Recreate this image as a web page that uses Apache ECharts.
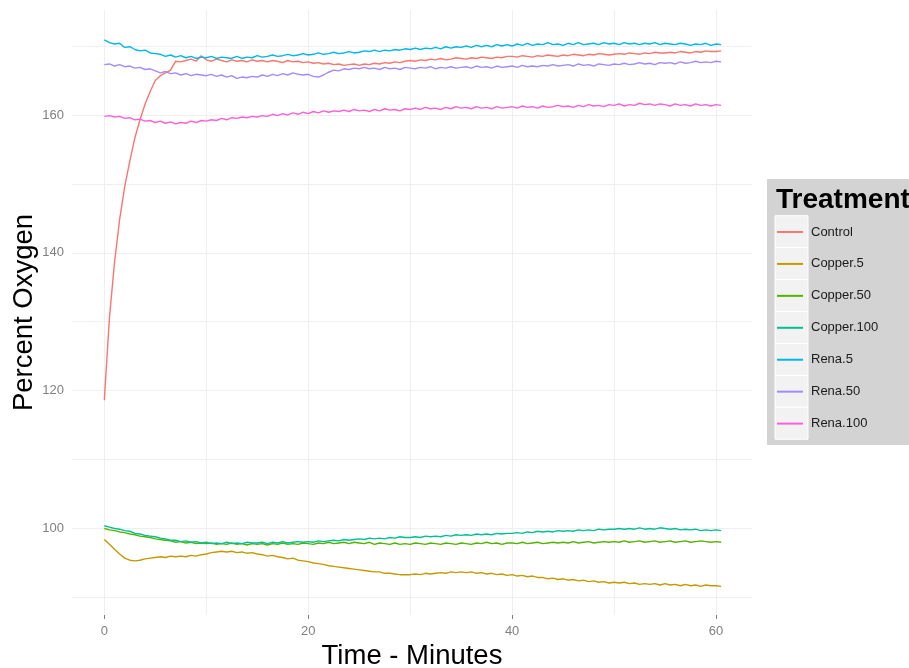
<!DOCTYPE html>
<html>
<head>
<meta charset="utf-8">
<script src="https://cdn.jsdelivr.net/npm/echarts@6/dist/echarts.min.js"></script>
<style>
  html, body { margin: 0; padding: 0; background: #fff; }
  #main { width: 909px; height: 668px; }
</style>
</head>
<body>
<div id="main"></div>
<script>
// sample times, every half minute from 0 to 60.5
var minutes = [];
for (var i = 0; i <= 121; i++) minutes.push(i / 2);

var names = ['Control', 'Copper.5', 'Copper.50', 'Copper.100', 'Rena.5', 'Rena.50', 'Rena.100'];
var colors = ['#F8766D', '#C49A00', '#53B400', '#00C094', '#00B6EB', '#A58AFF', '#FB61D7'];

var xTicks = [0, 20, 40, 60];
var yTicks = [100, 120, 140, 160];
var xGrid = [0, 10, 20, 30, 40, 50, 60];
var yGrid = [90, 100, 110, 120, 130, 140, 150, 160, 170];

// one row = 5 minutes
var control = [
  118.6,130.5,138.6,144.8,149.6,153.3,156.7,159.3,161.6,163.4,
  165.0,165.7,166.1,166.5,167.8,167.7,167.9,168.1,167.8,168.6,
  168.0,167.8,168.1,167.9,167.7,168.0,167.8,167.9,167.7,168.0,
  167.8,167.9,167.7,167.9,167.8,167.6,167.9,167.7,167.8,167.6,
  167.7,167.5,167.6,167.4,167.5,167.3,167.4,167.2,167.3,167.4,
  167.2,167.4,167.3,167.5,167.4,167.6,167.5,167.7,167.6,167.8,
  167.9,167.8,168.0,167.9,168.1,168.0,168.2,168.0,168.1,168.3,
  168.2,168.1,168.3,168.2,168.4,168.3,168.2,168.4,168.3,168.5,
  168.5,168.4,168.6,168.5,168.4,168.6,168.5,168.7,168.6,168.5,
  168.7,168.6,168.8,168.7,168.6,168.8,168.7,168.9,168.8,168.7,
  168.8,168.9,168.8,169.0,168.9,168.8,169.0,168.9,169.1,169.0,
  169.0,169.1,169.0,169.2,169.1,169.0,169.2,169.1,169.3,169.2,
  169.2,169.3
];
var copper5 = [
  98.4,97.7,97.0,96.3,95.7,95.4,95.3,95.4,95.6,95.7,
  95.8,95.9,95.8,96.0,95.9,96.0,95.9,96.1,96.0,96.2,
  96.3,96.5,96.6,96.7,96.6,96.7,96.5,96.6,96.4,96.5,
  96.3,96.2,96.0,96.1,95.9,95.8,95.6,95.7,95.4,95.3,
  95.2,95.0,94.9,94.8,94.6,94.5,94.4,94.3,94.2,94.1,
  94.0,93.9,93.8,93.7,93.7,93.5,93.5,93.4,93.3,93.3,
  93.3,93.4,93.3,93.5,93.4,93.5,93.6,93.5,93.7,93.6,
  93.7,93.6,93.7,93.5,93.6,93.4,93.5,93.3,93.4,93.2,
  93.3,93.1,93.2,93.0,93.1,92.9,92.9,92.7,92.8,92.6,
  92.7,92.5,92.6,92.4,92.5,92.3,92.4,92.2,92.3,92.1,
  92.2,92.1,92.2,92.0,92.1,91.9,92.0,91.9,92.0,91.8,
  92.0,91.8,91.9,91.7,91.9,91.7,91.8,91.6,91.8,91.7,
  91.7,91.6
];
var copper50 = [
  100.0,99.8,99.7,99.5,99.4,99.2,99.1,98.9,98.8,98.7,
  98.5,98.4,98.3,98.2,98.0,98.1,97.9,98.0,97.8,97.9,
  97.8,97.9,97.7,97.8,97.7,97.9,97.7,97.8,97.6,97.8,
  97.7,97.8,97.6,97.8,97.7,97.9,97.7,97.8,97.7,97.9,
  97.8,97.7,97.9,97.8,98.0,97.8,97.9,98.0,97.8,98.0,
  97.9,97.8,98.0,97.7,97.9,97.8,97.7,97.9,97.7,97.8,
  97.7,97.9,97.8,97.7,97.9,97.8,97.7,97.9,97.8,97.7,
  97.9,97.8,97.7,97.9,97.8,98.0,97.8,97.9,97.7,97.9,
  97.9,97.8,98.0,97.8,97.9,98.0,97.8,97.9,98.0,97.9,
  98.0,97.9,98.1,97.9,98.0,98.1,97.9,98.0,98.1,98.0,
  98.1,98.0,98.2,98.0,98.1,98.2,98.0,98.1,98.2,98.0,
  98.1,98.2,98.0,98.1,98.2,98.0,98.1,98.2,98.1,98.0,
  98.1,98.0
];
var copper100 = [
  100.4,100.2,100.0,99.9,99.7,99.6,99.3,99.2,99.0,98.9,
  98.8,98.6,98.5,98.3,98.3,98.1,98.2,98.0,98.1,97.9,
  98.0,97.8,97.9,97.8,98.0,97.8,97.9,97.8,98.0,97.9,
  97.9,98.0,97.8,98.0,97.9,98.1,97.9,98.0,98.1,98.0,
  98.1,98.0,98.2,98.1,98.2,98.3,98.2,98.4,98.3,98.4,
  98.5,98.4,98.6,98.5,98.6,98.5,98.7,98.6,98.8,98.7,
  98.7,98.8,98.7,98.9,98.8,98.9,98.8,99.0,98.9,99.1,
  99.0,99.1,99.0,99.2,99.1,99.2,99.1,99.3,99.2,99.3,
  99.3,99.4,99.3,99.5,99.4,99.6,99.5,99.6,99.5,99.7,
  99.6,99.7,99.6,99.8,99.7,99.8,99.7,99.9,99.8,99.9,
  99.9,100.0,99.9,100.0,99.9,100.1,99.9,100.0,99.9,100.1,
  100.0,99.9,100.0,99.8,99.9,99.8,99.9,99.7,99.8,99.7,
  99.8,99.7
];
var rena5 = [
  170.9,170.5,170.3,170.4,169.8,169.9,169.5,169.3,169.4,169.0,
  168.9,168.8,168.5,168.7,168.4,168.6,168.3,168.5,168.2,168.4,
  168.3,168.5,168.2,168.4,168.3,168.2,168.5,168.2,168.4,168.3,
  168.6,168.4,168.5,168.7,168.5,168.6,168.8,168.6,168.7,168.9,
  168.7,168.8,169.0,168.8,168.9,169.1,168.9,169.0,169.2,169.0,
  169.1,169.3,169.2,169.4,169.2,169.4,169.3,169.5,169.4,169.6,
  169.5,169.7,169.5,169.7,169.6,169.8,169.6,169.9,169.7,169.9,
  169.8,170.0,169.8,170.1,169.9,170.1,169.9,170.2,170.0,170.2,
  170.0,170.3,170.1,170.4,170.1,170.3,170.2,170.5,170.2,170.3,
  170.1,170.4,170.2,170.5,170.2,170.3,170.4,170.2,170.5,170.3,
  170.4,170.2,170.5,170.3,170.4,170.2,170.4,170.3,170.5,170.2,
  170.4,170.3,170.2,170.4,170.3,170.1,170.3,170.2,170.4,170.1,
  170.3,170.2
];
var rena50 = [
  167.3,167.4,167.1,167.3,167.0,167.1,166.8,166.9,166.6,166.7,
  166.4,166.1,166.3,166.0,166.1,165.8,166.0,165.7,165.9,165.8,
  165.7,165.9,165.6,165.8,165.5,165.7,165.3,165.5,165.4,165.6,
  165.5,165.8,165.6,165.9,165.7,166.0,165.8,166.1,165.9,165.8,
  165.9,165.6,165.5,165.8,166.2,166.5,166.4,166.7,166.6,166.8,
  166.7,166.9,166.7,166.8,166.6,166.9,166.7,166.8,166.6,166.9,
  166.8,166.7,166.9,166.8,167.0,166.7,166.9,166.8,167.0,166.8,
  166.9,167.0,166.8,167.1,166.9,167.0,166.8,167.1,166.9,167.0,
  167.1,166.9,167.2,167.0,167.1,167.0,167.2,167.1,167.3,167.1,
  167.2,167.3,167.1,167.4,167.2,167.3,167.1,167.4,167.3,167.2,
  167.4,167.3,167.5,167.3,167.4,167.6,167.4,167.5,167.3,167.6,
  167.5,167.6,167.4,167.7,167.5,167.6,167.8,167.6,167.7,167.6,
  167.8,167.7
];
var rena100 = [
  159.8,159.9,159.7,159.8,159.5,159.6,159.3,159.4,159.1,159.2,
  158.9,159.1,158.8,159.0,158.7,158.9,158.8,159.1,158.9,159.2,
  159.1,159.3,159.2,159.5,159.3,159.6,159.5,159.7,159.6,159.8,
  159.7,159.9,159.8,160.1,159.9,160.2,160.0,160.3,160.1,160.4,
  160.2,160.5,160.3,160.6,160.4,160.6,160.5,160.7,160.5,160.8,
  160.6,160.7,160.5,160.8,160.6,160.9,160.7,160.8,160.6,160.9,
  160.8,161.0,160.8,161.1,160.9,161.0,160.8,161.1,160.9,161.2,
  161.0,161.1,160.9,161.2,161.0,161.1,160.9,161.2,161.0,161.1,
  161.2,161.0,161.3,161.1,161.2,161.0,161.3,161.1,161.2,161.4,
  161.2,161.3,161.1,161.4,161.2,161.5,161.3,161.4,161.2,161.5,
  161.4,161.6,161.3,161.5,161.4,161.7,161.5,161.6,161.4,161.6,
  161.5,161.3,161.6,161.4,161.5,161.3,161.6,161.4,161.5,161.3,
  161.5,161.4
];

var values = [control, copper5, copper50, copper100, rena5, rena50, rena100];
var font = '"Liberation Sans", Arial, sans-serif';

var myChart = echarts.init(document.getElementById('main'));

var series = [{
    name: 'grid',
    type: 'line',
    data: [],
    z: 1,
    markLine: {
        silent: true,
        symbol: 'none',
        animation: false,
        z: 1,
        label: { show: false },
        lineStyle: { color: '#EFEFEF', width: 1, type: 'solid' },
        data: yGrid.map(function (v) { return { yAxis: v }; })
            .concat(xGrid.map(function (v) { return { xAxis: v }; }))
    }
}];
names.forEach(function (n, k) {
    series.push({
        name: n,
        type: 'line',
        showSymbol: false,
        z: 3,
        color: colors[k],
        lineStyle: { width: 1.4, color: colors[k] },
        data: minutes.map(function (t, i) { return [t, values[k][i]]; })
    });
});

// legend panel: grey background, title and key boxes
var graphics = [
    { type: 'rect', z: 0, shape: { x: 767, y: 179, width: 160, height: 266 }, style: { fill: '#D3D3D3' } },
    { type: 'text', z: 1, style: { x: 776, y: 200, text: 'Treatment', font: 'bold 28px ' + font, fill: '#000', verticalAlign: 'middle' } }
];
names.forEach(function (n, k) {
    graphics.push({
        type: 'rect', z: 1,
        shape: { x: 775, y: 215.7 + k * 31.94, width: 33, height: 31.94 },
        style: { fill: '#F2F2F2', stroke: '#FFFFFF', lineWidth: 1 }
    });
});

var option = {
    animation: false,
    backgroundColor: '#FFFFFF',
    textStyle: { fontFamily: font },
    grid: { left: 72, right: 157, top: 10, bottom: 53, containLabel: false, outerBoundsMode: 'none' },
    graphic: graphics,
    legend: {
        data: names,
        orient: 'vertical',
        left: 777,
        top: 216,
        padding: 0,
        itemWidth: 26,
        itemHeight: 2,
        itemGap: 0,
        icon: 'rect',
        selectedMode: false,
        z: 10,
        textStyle: { fontSize: 13, lineHeight: 31.94, color: '#1A1A1A', fontFamily: font, padding: [0, 0, 0, 3] }
    },
    xAxis: {
        type: 'value',
        min: -3.17,
        max: 63.53,
        name: 'Time - Minutes',
        nameLocation: 'middle',
        nameGap: 27,
        nameMoveOverlap: false,
        nameTextStyle: { fontSize: 27.5, color: '#000', fontFamily: font },
        axisLine: { show: false },
        splitLine: { show: false },
        axisTick: { show: true, length: 4, customValues: xTicks, lineStyle: { color: '#808080' } },
        axisLabel: { customValues: xTicks, margin: 10, fontSize: 13, color: '#808080', fontFamily: font }
    },
    yAxis: {
        type: 'value',
        min: 87.45,
        max: 175.23,
        name: 'Percent Oxygen',
        nameLocation: 'middle',
        nameGap: 34,
        nameMoveOverlap: false,
        nameRotate: 90,
        nameTextStyle: { fontSize: 27.5, color: '#000', fontFamily: font },
        axisLine: { show: false },
        splitLine: { show: false },
        axisTick: { show: true, length: 4, customValues: yTicks, lineStyle: { color: '#808080' } },
        axisLabel: { customValues: yTicks, margin: 8, fontSize: 13, color: '#808080', fontFamily: font }
    },
    series: series
};

myChart.setOption(option);
</script>
</body>
</html>
